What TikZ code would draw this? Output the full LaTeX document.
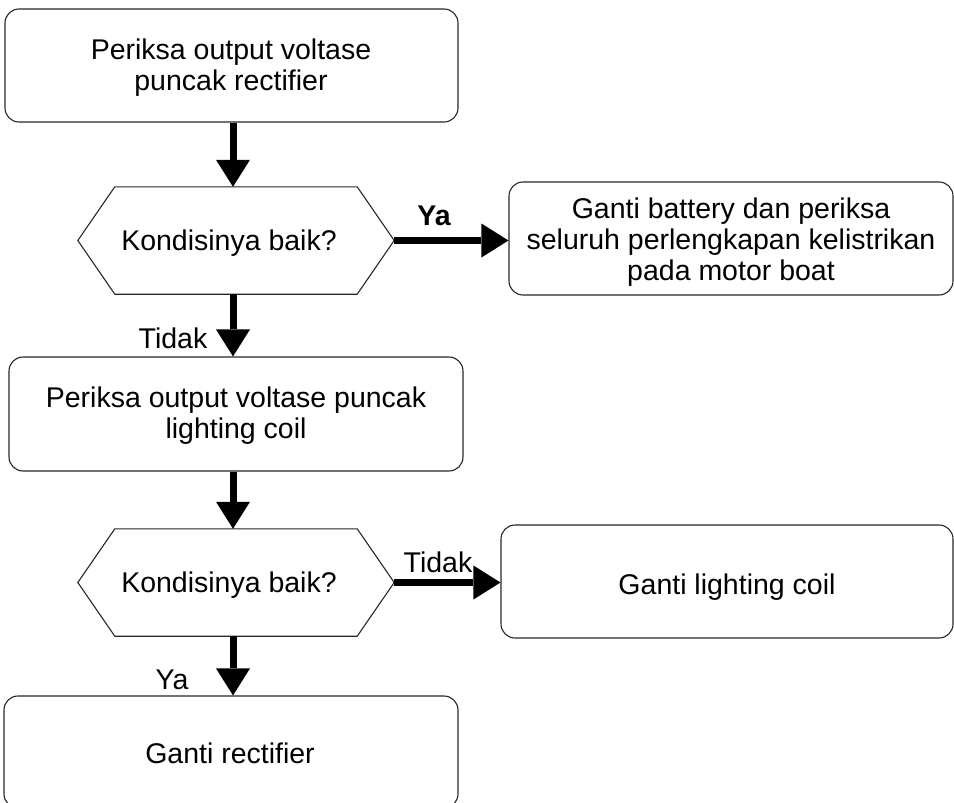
\documentclass[tikz,border=0pt]{standalone}
\usepackage{fontspec}
\setmainfont{Liberation Sans}
\usetikzlibrary{arrows.meta}
\begin{document}
\begin{tikzpicture}[x=1pt,y=-1pt,
  every node/.style={font=\fontsize{28.5}{31}\selectfont, inner sep=0pt},
  box/.style={draw=black!85, line width=1.1pt, rounded corners=14pt, rectangle, align=center},
  hexbox/.style={rectangle, inner sep=0pt},
  hexline/.style={draw=black!85, line width=1.1pt},
  arr/.style={line width=7pt, -{Triangle[length=27pt,width=34pt,line width=0pt]}},
  lbl/.style={font=\fontsize{28.5}{31}\selectfont, align=center}
]
\path[use as bounding box, clip] (0,0) rectangle (954,803);
\coordinate (spine) at (233,0);

% boxes
\node[box, minimum width=453pt, minimum height=113pt] (b1) at (231.5,65.5) {};
\node[lbl] (b1t) at (231,68) {Periksa output voltase\\puncak rectifier};

\node[hexbox, minimum width=316pt, minimum height=107pt] (d1) at (236,240.5) {};
\draw[hexline] (d1.west) -- ([xshift=37pt]d1.north west) -- ([xshift=-37pt]d1.north east) -- (d1.east) -- ([xshift=-37pt]d1.south east) -- ([xshift=37pt]d1.south west) -- cycle;
\node[lbl] (d1t) at (229,243) {Kondisinya baik?};

\node[box, minimum width=444pt, minimum height=113pt] (b2) at (731,238.5) {};
\node[lbl] (b2t) at (731,242) {Ganti battery dan periksa\\seluruh perlengkapan kelistrikan\\pada motor boat};

\node[box, minimum width=454pt, minimum height=114pt] (b3) at (236,414) {};
\node[lbl] (b3t) at (236,416) {Periksa output voltase puncak\\lighting coil};

\node[hexbox, minimum width=316pt, minimum height=107pt] (d2) at (236,582.5) {};
\draw[hexline] (d2.west) -- ([xshift=37pt]d2.north west) -- ([xshift=-37pt]d2.north east) -- (d2.east) -- ([xshift=-37pt]d2.south east) -- ([xshift=37pt]d2.south west) -- cycle;
\node[lbl] (d2t) at (229,585) {Kondisinya baik?};

\node[box, minimum width=452pt, minimum height=113pt] (b4) at (727,581.5) {};
\node[lbl] (b4t) at (727,587) {Ganti lighting coil};

\node[box, minimum width=454pt, minimum height=112pt] (b5) at (231,752) {};
\node[lbl] (b5t) at (230,753) {Ganti rectifier};

% connectors
\draw[arr] (b1.south -| spine) -- (d1.north -| spine);
\draw[arr] (d1.south -| spine) -- (b3.north -| spine);
\draw[arr] (b3.south -| spine) -- (d2.north -| spine);
\draw[arr] (d2.south -| spine) -- (b5.north -| spine);
\draw[arr] (d1.east) -- (d1.east -| b2.west);
\draw[arr] (d2.east) -- (d2.east -| b4.west);

% labels
\node[lbl, font=\fontsize{28.5}{31}\selectfont\bfseries] (ya1) at (434,216) {Ya};
\node[lbl] (tidak1) at (173,338) {Tidak};
\node[lbl] (tidak2) at (438,562) {Tidak};
\node[lbl] (ya2) at (172,680) {Ya};
\end{tikzpicture}
\end{document}
